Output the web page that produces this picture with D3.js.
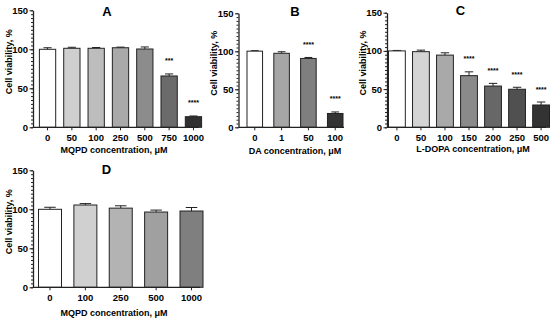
<!DOCTYPE html>
<html>
<head>
<meta charset="utf-8">
<script src="https://cdn.jsdelivr.net/npm/d3@7"></script>
<style>
  body { margin: 0; background: #fff; }
  svg text { font-family: "Liberation Sans", Arial, sans-serif; font-weight: bold; fill: #000; }
</style>
</head>
<body>
<svg id="chart" width="550" height="320"></svg>
<script>
// panel A - MQPD
var catsA = ['0', '50', '100', '250', '500', '750', '1000'];
var valsA = [100, 101.3, 101.3, 102, 100.4, 65.8, 13.6];
var errsA = [2, 1.3, 1, 0.8, 2.6, 2.6, 0.9];
var starsA = ['', '', '', '', '', '***', '****'];
var fillsA = ['#ffffff', '#cfcfcf', '#bdbdbd', '#a9a9a9', '#8c8c8c', '#6b6b6b', '#303030'];

// panel B - DA
var catsB = ['0', '1', '50', '100'];
var valsB = [100.2, 97.4, 90.6, 18.2];
var errsB = [0.6, 2, 1.3, 2];
var starsB = ['', '', '****', '****'];
var fillsB = ['#ffffff', '#a6a6a6', '#7f7f7f', '#333333'];

// panel C - L-DOPA
var catsC = ['0', '50', '100', '150', '200', '250', '500'];
var valsC = [100, 99, 94.5, 67.6, 54, 49.8, 29.2];
var errsC = [0.6, 2, 3, 5, 3.5, 2.6, 3.9];
var starsC = ['', '', '', '****', '****', '****', '****'];
var fillsC = ['#ffffff', '#d4d4d4', '#a9a9a9', '#8a8a8a', '#676767', '#505050', '#333333'];

// panel D - MQPD
var catsD = ['0', '100', '250', '500', '1000'];
var valsD = [100, 105.5, 101.5, 96.5, 97.8];
var errsD = [2.6, 1.8, 3, 2.5, 4.5];
var starsD = ['', '', '', '', ''];
var fillsD = ['#ffffff', '#d0d0d0', '#b3b3b3', '#a0a0a0', '#7f7f7f'];

var yTicks = [0, 50, 100, 150];
var yLabel = 'Cell viability, %';

var panels = [
  { title: 'A', cats: catsA, vals: valsA, errs: errsA, stars: starsA, fills: fillsA,
    xlab: 'MQPD concentration, \u03bcM',
    ax0: 33, ax1: 199, band: [39.4, 201.6], pad: 0.33, y0: 127.3, y1: 10.3, titleX: 107, titleY: 15.5, labX: 114, labY: 152.5 },
  { title: 'B', cats: catsB, vals: valsB, errs: errsB, stars: starsB, fills: fillsB,
    xlab: 'DA concentration, \u03bcM',
    ax0: 238.5, ax1: 344, band: [247, 343], pad: 0.42, y0: 127.3, y1: 13.3, titleX: 295, titleY: 15.5, labX: 295, labY: 154 },
  { title: 'C', cats: catsC, vals: valsC, errs: errsC, stars: starsC, fills: fillsC,
    xlab: 'L-DOPA concentration, \u03bcM',
    ax0: 387, ax1: 546, band: [388.5, 549.5], pad: 0.3, y0: 127.3, y1: 12.7, titleX: 460.5, titleY: 14.5, labX: 473, labY: 152 },
  { title: 'D', cats: catsD, vals: valsD, errs: errsD, stars: starsD, fills: fillsD,
    xlab: 'MQPD concentration, \u03bcM',
    ax0: 33, ax1: 200, band: [38.5, 203], pad: 0.35, y0: 287.3, y1: 170.3, titleX: 106.5, titleY: 173.5, labX: 114, labY: 315.5 }
];

var svg = d3.select('#chart');

panels.forEach(function(p) {
  var x = d3.scaleBand().domain(p.cats).range(p.band).paddingInner(p.pad).paddingOuter(0);
  var y = d3.scaleLinear().domain([0, 150]).range([p.y0, p.y1]);
  var g = svg.append('g');
  var rows = p.cats.map(function(c, i) {
    return { cat: c, val: p.vals[i], err: p.errs[i], star: p.stars[i], fill: p.fills[i] };
  });
  var mid = function(d) { return x(d.cat) + x.bandwidth() / 2; };

  // error bars (upper only)
  var cap = x.bandwidth() * 0.5;
  var eb = g.selectAll('g.err').data(rows).enter().append('g').attr('class', 'err');
  eb.append('line')
    .attr('x1', mid).attr('x2', mid)
    .attr('y1', function(d) { return y(d.val); })
    .attr('y2', function(d) { return y(d.val + d.err); })
    .attr('stroke', '#222').attr('stroke-width', 1);
  eb.append('line')
    .attr('x1', function(d) { return mid(d) - cap / 2; })
    .attr('x2', function(d) { return mid(d) + cap / 2; })
    .attr('y1', function(d) { return y(d.val + d.err); })
    .attr('y2', function(d) { return y(d.val + d.err); })
    .attr('stroke', '#222').attr('stroke-width', 1);

  g.selectAll('rect.bar').data(rows).enter().append('rect')
    .attr('class', 'bar')
    .attr('x', function(d) { return x(d.cat); })
    .attr('y', function(d) { return y(d.val); })
    .attr('width', x.bandwidth())
    .attr('height', function(d) { return y(0) - y(d.val); })
    .style('fill', function(d) { return d.fill; })
    .style('stroke', '#222')
    .style('stroke-width', 1);

  g.selectAll('text.star').data(rows.filter(function(d) { return d.star; })).enter().append('text')
    .attr('class', 'star')
    .attr('x', mid)
    .attr('y', function(d) { return y(d.val + d.err) - 10.5; })
    .attr('text-anchor', 'middle')
    .style('font-size', '7px')
    .text(function(d) { return d.star; });

  // y axis: major + minor ticks
  var yMinor = g.append('g').attr('transform', 'translate(' + p.ax0 + ',0)')
    .call(d3.axisLeft(y).tickValues(d3.range(0, 151, 5)).tickSize(2).tickFormat(''));
  yMinor.select('.domain').remove();
  var yAxis = g.append('g').attr('transform', 'translate(' + p.ax0 + ',0)')
    .call(d3.axisLeft(y).tickValues(yTicks).tickSize(3.5).tickSizeOuter(0).tickPadding(1.5));
  yAxis.selectAll('text').style('font-size', '9.5px');
  g.selectAll('.tick line').attr('stroke', '#222').attr('stroke-width', 1);
  yAxis.select('.domain').attr('stroke', '#222').attr('stroke-width', 1.3);

  // x axis
  var xAxis = g.append('g').attr('transform', 'translate(0,' + p.y0 + ')')
    .call(d3.axisBottom(x).tickSize(3).tickPadding(3.5));
  xAxis.select('.domain').remove();
  xAxis.selectAll('text').style('font-size', '9.5px');
  xAxis.selectAll('.tick line').attr('stroke', '#222');
  g.append('line')
    .attr('x1', p.ax0).attr('x2', p.ax1)
    .attr('y1', p.y0).attr('y2', p.y0)
    .attr('stroke', '#222').attr('stroke-width', 1.3);

  g.append('text')
    .attr('x', p.titleX).attr('y', p.titleY)
    .attr('text-anchor', 'middle')
    .style('font-size', '13px')
    .text(p.title);

  g.append('text')
    .attr('x', p.labX).attr('y', p.labY)
    .attr('text-anchor', 'middle')
    .style('font-size', '9px')
    .text(p.xlab);

  var ymid = (p.y0 + p.y1) / 2 - 7;
  g.append('text')
    .attr('transform', 'translate(' + (p.ax0 - 21.5) + ',' + ymid + ') rotate(-90)')
    .attr('text-anchor', 'middle')
    .style('font-size', '9px')
    .text(yLabel);
});
</script>
</body>
</html>
